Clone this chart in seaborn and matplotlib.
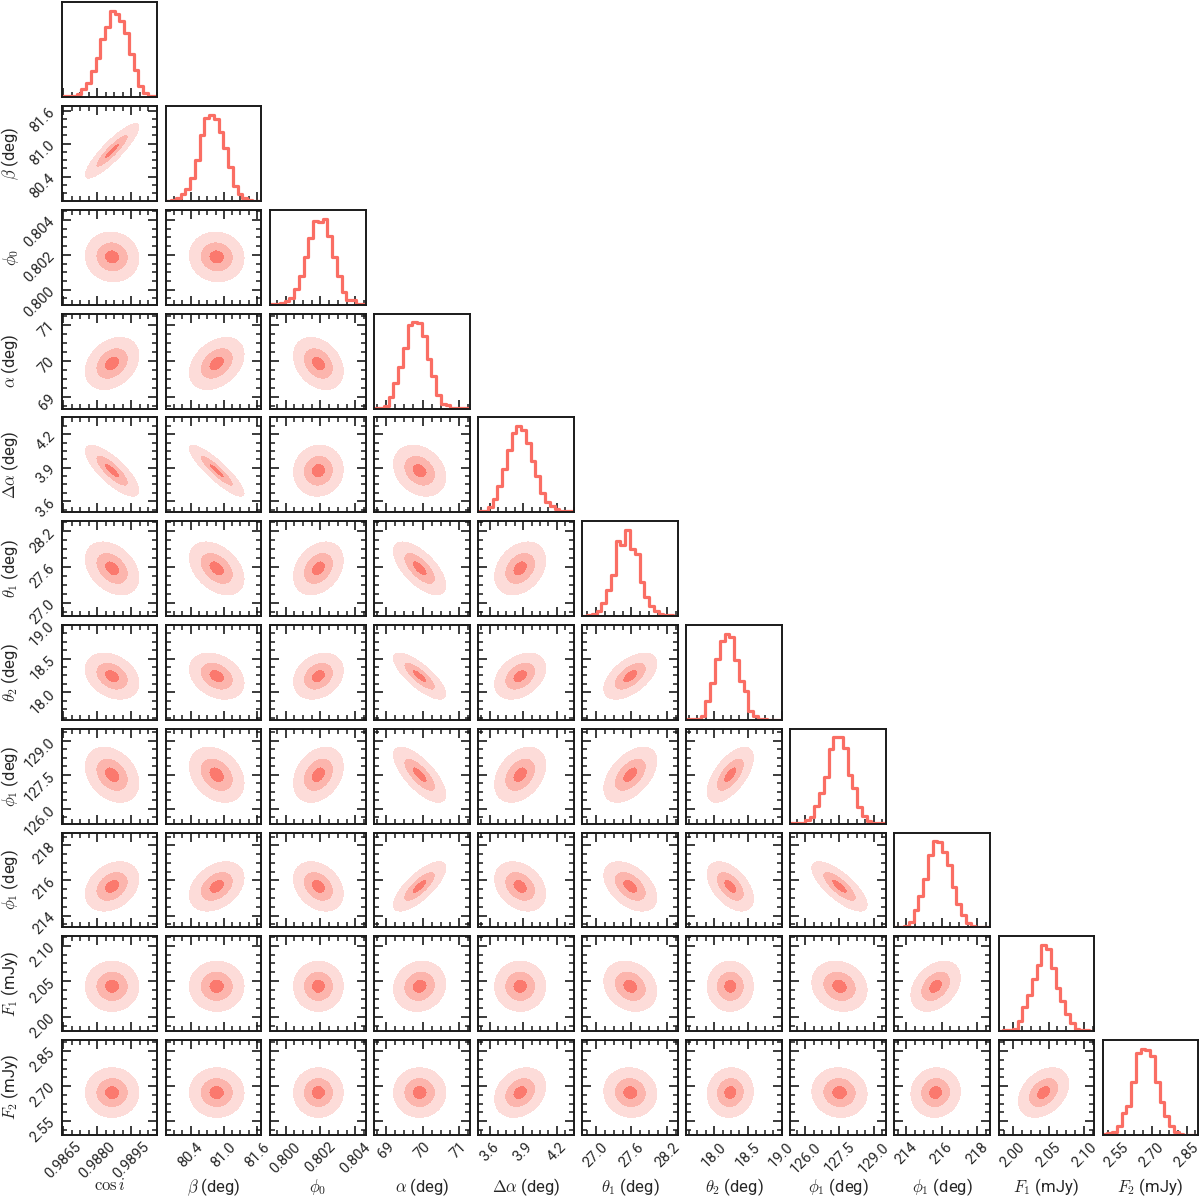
import numpy as np
import pandas as pd
import matplotlib
matplotlib.use("Agg")
import matplotlib.pyplot as plt
from matplotlib.ticker import AutoMinorLocator
import seaborn as sns

# parameter names / axis labels
labels = [r"$\cos i$", r"$\beta$ (deg)", r"$\phi_0$", r"$\alpha$ (deg)", r"$\Delta\alpha$ (deg)",
          r"$\theta_1$ (deg)", r"$\theta_2$ (deg)", r"$\phi_1$ (deg)", r"$\phi_1$ (deg)",
          r"$F_1$ (mJy)", r"$F_2$ (mJy)"]

# axis ranges (min/max of the chains) and tick values
lo = [0.98646, 79.96, 0.79913, 68.67, 3.50, 26.78, 17.59, 125.34, 213.32, 1.980, 2.49]
hi = [0.99065, 81.68, 0.80458, 71.30, 4.35, 28.37, 19.00, 129.53, 218.73, 2.113, 2.897]
ticks = [[0.9865, 0.9880, 0.9895], [80.4, 81.0, 81.6], [0.800, 0.802, 0.804], [69, 70, 71],
         [3.6, 3.9, 4.2], [27.0, 27.6, 28.2], [18.0, 18.5, 19.0], [126.0, 127.5, 129.0],
         [214, 216, 218], [2.00, 2.05, 2.10], [2.55, 2.70, 2.85]]
tick_fmt = ["{:.4f}", "{:.1f}", "{:.3f}", "{:.0f}", "{:.1f}", "{:.1f}", "{:.1f}", "{:.1f}",
            "{:.0f}", "{:.2f}", "{:.2f}"]

# posterior summary
means = [0.98865, 80.87, 0.80188, 69.92, 3.873, 27.58, 18.24, 127.5, 215.66, 2.043, 2.672]
sigmas = [0.00062, 0.26, 0.00075, 0.38, 0.12, 0.233, 0.18, 0.64, 0.74, 0.0185, 0.056]

# correlation, lower triangle (row = y parameter, column = x parameter)
rho = [
    [],
    [0.88],
    [-0.05, -0.05],
    [0.30, 0.35, -0.30],
    [-0.78, -0.88, 0.05, -0.25],
    [-0.35, -0.40, 0.30, -0.65, 0.30],
    [-0.30, -0.30, 0.25, -0.78, 0.35, 0.55],
    [-0.30, -0.30, 0.30, -0.72, 0.35, 0.50, 0.62],
    [0.30, 0.35, -0.30, 0.75, -0.30, -0.45, -0.50, -0.75],
    [0.0, 0.0, 0.0, 0.10, 0.0, -0.20, 0.0, -0.15, 0.35],
    [0.0, 0.0, 0.0, 0.0, 0.25, -0.05, 0.05, -0.05, 0.05, 0.35],
]

# 1D histogram heights (20 bins over the axis range, peak = 1)
h_cosi = [0.01, 0.01, 0.02, 0.04, 0.09, 0.16, 0.30, 0.46, 0.67, 0.82, 1.00, 0.97, 0.88, 0.74, 0.50, 0.32, 0.13, 0.05, 0.02, 0.01]
h_beta = [0.005, 0.01, 0.03, 0.08, 0.14, 0.27, 0.48, 0.76, 0.96, 1.00, 0.95, 0.80, 0.62, 0.40, 0.18, 0.08, 0.04, 0.015, 0.005, 0.003]
h_phi0 = [0.005, 0.01, 0.02, 0.04, 0.08, 0.18, 0.33, 0.55, 0.78, 0.97, 0.96, 1.00, 0.80, 0.55, 0.33, 0.15, 0.06, 0.05, 0.01, 0.005]
h_alpha = [0.005, 0.01, 0.03, 0.13, 0.30, 0.48, 0.70, 0.97, 1.00, 0.99, 0.84, 0.58, 0.38, 0.16, 0.05, 0.04, 0.01, 0.005, 0.002, 0.002]
h_dalpha = [0.01, 0.02, 0.06, 0.15, 0.30, 0.50, 0.72, 0.92, 1.00, 0.95, 0.80, 0.60, 0.42, 0.22, 0.12, 0.07, 0.04, 0.02, 0.01, 0.01]
h_theta1 = [0.005, 0.01, 0.03, 0.06, 0.15, 0.30, 0.48, 0.87, 0.82, 1.00, 0.78, 0.72, 0.40, 0.22, 0.12, 0.06, 0.03, 0.015, 0.01, 0.005]
h_theta2 = [0.005, 0.005, 0.01, 0.05, 0.22, 0.43, 0.71, 0.92, 1.00, 0.96, 0.69, 0.45, 0.33, 0.10, 0.05, 0.01, 0.005, 0.003, 0.002, 0.002]
h_phi1a = [0.003, 0.005, 0.01, 0.04, 0.08, 0.20, 0.35, 0.54, 0.87, 1.00, 1.00, 0.88, 0.57, 0.41, 0.19, 0.09, 0.03, 0.01, 0.005, 0.003]
h_phi1b = [0.003, 0.005, 0.02, 0.06, 0.20, 0.36, 0.56, 0.84, 1.00, 0.99, 0.88, 0.72, 0.47, 0.27, 0.15, 0.05, 0.02, 0.01, 0.005, 0.003]
h_f1 = [0.005, 0.01, 0.01, 0.03, 0.12, 0.28, 0.42, 0.60, 0.77, 1.00, 0.95, 0.73, 0.50, 0.35, 0.20, 0.10, 0.03, 0.015, 0.01, 0.005]
h_f2 = [0.01, 0.02, 0.04, 0.10, 0.26, 0.34, 0.62, 0.95, 1.00, 0.98, 0.92, 0.62, 0.38, 0.22, 0.10, 0.03, 0.01, 0.005, 0.003, 0.002]
hists = [h_cosi, h_beta, h_phi0, h_alpha, h_dalpha, h_theta1, h_theta2, h_phi1a, h_phi1b, h_f1, h_f2]

line_color = "#fa6e64"
fill_colors = ["#fb796e", "#fcb5ad", "#fddcd9"]  # inner -> outer
sig_levels = [0, 0.54, 1.15, 1.9]

sns.set_style("ticks")
plt.rcParams["font.family"] = ["Roboto", "DejaVu Sans"]
plt.rcParams["mathtext.fontset"] = "cm"
plt.rcParams["axes.linewidth"] = 1.4
plt.rcParams["axes.edgecolor"] = "#1a1a1a"

n = len(labels)
fig, axes = plt.subplots(n, n, figsize=(12, 11.98), dpi=100)
fig.subplots_adjust(left=0.052, right=0.998, bottom=0.0526, top=0.998, wspace=0.094, hspace=0.094)

for i in range(n):
    for j in range(n):
        ax = axes[i, j]
        if j > i:
            ax.axis("off")
            continue
        if i == j:
            nb = len(hists[i])
            step = (hi[i] - lo[i]) / nb
            df = pd.DataFrame({"x": [lo[i] + (k + 0.5) * step for k in range(nb)], "w": hists[i]})
            sns.histplot(data=df, x="x", weights="w", bins=nb, binrange=(lo[i], hi[i]),
                         element="step", fill=False, color=line_color, linewidth=2.3, ax=ax)
            ax.set_ylim(0, 1.1 * max(hists[i]))
            ax.set_yticks([])
            ax.set_ylabel("")
            ax.tick_params(axis="x", which="both", direction="in", top=False, bottom=True)
        else:
            xs = np.linspace(lo[j], hi[j], 240)
            ys = np.linspace(lo[i], hi[i], 240)
            X, Y = np.meshgrid(xs, ys)
            u = (X - means[j]) / sigmas[j]
            v = (Y - means[i]) / sigmas[i]
            r = rho[i][j]
            d = np.sqrt((u ** 2 - 2 * r * u * v + v ** 2) / (1 - r ** 2))
            ax.contourf(X, Y, d, levels=sig_levels, colors=fill_colors)
            ax.set_ylim(lo[i], hi[i])
            ax.set_yticks(ticks[i])
            ax.yaxis.set_minor_locator(AutoMinorLocator(4))
            ax.tick_params(axis="both", which="both", direction="in",
                           top=True, bottom=True, left=True, right=True)
        ax.set_xlim(lo[j], hi[j])
        ax.set_xticks(ticks[j])
        ax.xaxis.set_minor_locator(AutoMinorLocator(4))
        ax.tick_params(which="major", length=6.5, width=1.2, color="#1a1a1a")
        ax.tick_params(which="minor", length=3.5, width=1.1, color="#1a1a1a")
        for s in ax.spines.values():
            s.set_visible(True)

        if i == n - 1:
            ax.set_xticklabels([tick_fmt[j].format(t) for t in ticks[j]], rotation=45, fontsize=10.5)
            ax.set_xlabel(labels[j], fontsize=12)
            ax.xaxis.set_label_coords(0.5, -0.44)
        else:
            ax.set_xticklabels([])
            ax.set_xlabel("")
        if j == 0 and i > 0:
            ax.set_yticklabels([tick_fmt[i].format(t) for t in ticks[i]], rotation=45, fontsize=10.5)
            ax.set_ylabel(labels[i], fontsize=12)
            ax.yaxis.set_label_coords(-0.44, 0.5)
        elif i != j:
            ax.set_yticklabels([])
            ax.set_ylabel("")

fig.savefig("out.png", dpi=100)
